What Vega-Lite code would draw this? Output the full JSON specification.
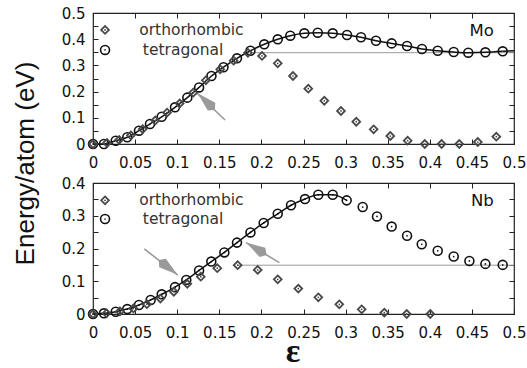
{
  "$schema": "https://vega.github.io/schema/vega-lite/v6.json",
  "padding": {"left": 11, "top": 5, "right": 5, "bottom": 5},
  "background": "white",
  "config": {
    "view": {"stroke": "#222", "strokeWidth": 1.2},
    "axis": {"grid": false, "domain": false, "tickColor": "#222", "tickSize": -5, "tickWidth": 1, "labelFont": "DejaVu Sans", "labelFontSize": 15, "labelColor": "#111", "labelPadding": 13, "titleColor": "#111", "labelFlush": false, "labelOverlap": false},
    "axisBottom": {"labelPadding": 16},
    "font": "DejaVu Sans"
  },
  "datasets": {
    "mo_tet": [
      {"eps": 0, "E": 0}, {"eps": 0.013, "E": 0.0}, {"eps": 0.027, "E": 0.0126}, {"eps": 0.0407, "E": 0.0256},
      {"eps": 0.0546, "E": 0.0508}, {"eps": 0.0677, "E": 0.0763}, {"eps": 0.0816, "E": 0.104}, {"eps": 0.0974, "E": 0.14},
      {"eps": 0.112, "E": 0.177}, {"eps": 0.126, "E": 0.216}, {"eps": 0.1407, "E": 0.2595}, {"eps": 0.155, "E": 0.293},
      {"eps": 0.171, "E": 0.327}, {"eps": 0.187, "E": 0.356}, {"eps": 0.2034, "E": 0.3805}, {"eps": 0.2194, "E": 0.3996},
      {"eps": 0.2343, "E": 0.4134}, {"eps": 0.251, "E": 0.4225}, {"eps": 0.2669, "E": 0.4248}, {"eps": 0.2847, "E": 0.4225},
      {"eps": 0.3017, "E": 0.416}, {"eps": 0.3183, "E": 0.4073}, {"eps": 0.3361, "E": 0.394}, {"eps": 0.3547, "E": 0.384},
      {"eps": 0.373, "E": 0.374}, {"eps": 0.3907, "E": 0.3626}, {"eps": 0.4094, "E": 0.356}, {"eps": 0.4284, "E": 0.351},
      {"eps": 0.4457, "E": 0.3485}, {"eps": 0.466, "E": 0.35}, {"eps": 0.4866, "E": 0.3538}
    ],
    "mo_line_end": [
      {"eps": 0.4866, "E": 0.3538}, {"eps": 0.5, "E": 0.356}
    ],
    "mo_orth": [
      {"eps": 0, "E": 0}, {"eps": 0.0166, "E": 0.004}, {"eps": 0.031, "E": 0.016}, {"eps": 0.045, "E": 0.033},
      {"eps": 0.059, "E": 0.057}, {"eps": 0.074, "E": 0.09}, {"eps": 0.088, "E": 0.12}, {"eps": 0.103, "E": 0.155},
      {"eps": 0.119, "E": 0.196}, {"eps": 0.134, "E": 0.243}, {"eps": 0.151, "E": 0.285}, {"eps": 0.167, "E": 0.318},
      {"eps": 0.184, "E": 0.348}, {"eps": 0.2007, "E": 0.336}, {"eps": 0.2194, "E": 0.308}, {"eps": 0.2375, "E": 0.2595},
      {"eps": 0.2557, "E": 0.211}, {"eps": 0.2747, "E": 0.165}, {"eps": 0.2945, "E": 0.126}, {"eps": 0.3127, "E": 0.085},
      {"eps": 0.3333, "E": 0.056}, {"eps": 0.3531, "E": 0.0305}, {"eps": 0.3737, "E": 0.0126}, {"eps": 0.394, "E": 0.0},
      {"eps": 0.414, "E": 0.0}, {"eps": 0.435, "E": 0.0}, {"eps": 0.457, "E": 0.0076}, {"eps": 0.479, "E": 0.028}
    ],
    "nb_tet": [
      {"eps": 0, "E": 0}, {"eps": 0.013, "E": 0.002}, {"eps": 0.027, "E": 0.007}, {"eps": 0.0407, "E": 0.015},
      {"eps": 0.0546, "E": 0.0275}, {"eps": 0.0685, "E": 0.043}, {"eps": 0.0816, "E": 0.06}, {"eps": 0.0974, "E": 0.082},
      {"eps": 0.1108, "E": 0.104}, {"eps": 0.126, "E": 0.133}, {"eps": 0.1405, "E": 0.16}, {"eps": 0.156, "E": 0.188},
      {"eps": 0.171, "E": 0.218}, {"eps": 0.187, "E": 0.249}, {"eps": 0.2027, "E": 0.278}, {"eps": 0.2194, "E": 0.306},
      {"eps": 0.2352, "E": 0.332}, {"eps": 0.2518, "E": 0.351}, {"eps": 0.2676, "E": 0.364}, {"eps": 0.2847, "E": 0.364},
      {"eps": 0.3013, "E": 0.347}, {"eps": 0.3203, "E": 0.3266}, {"eps": 0.3373, "E": 0.298}, {"eps": 0.3547, "E": 0.267},
      {"eps": 0.373, "E": 0.2388}, {"eps": 0.3904, "E": 0.213}, {"eps": 0.4094, "E": 0.193}, {"eps": 0.4284, "E": 0.1755},
      {"eps": 0.447, "E": 0.162}, {"eps": 0.466, "E": 0.153}, {"eps": 0.4866, "E": 0.15}
    ],
    "nb_orth": [
      {"eps": 0, "E": 0}, {"eps": 0.016, "E": 0.002}, {"eps": 0.032, "E": 0.008}, {"eps": 0.048, "E": 0.017},
      {"eps": 0.064, "E": 0.03}, {"eps": 0.08, "E": 0.047}, {"eps": 0.096, "E": 0.068}, {"eps": 0.112, "E": 0.092},
      {"eps": 0.128, "E": 0.114}, {"eps": 0.1476, "E": 0.14}, {"eps": 0.1718, "E": 0.149}, {"eps": 0.1956, "E": 0.1347},
      {"eps": 0.2194, "E": 0.106}, {"eps": 0.2438, "E": 0.0775}, {"eps": 0.2676, "E": 0.051}, {"eps": 0.2925, "E": 0.0297},
      {"eps": 0.3191, "E": 0.0143}, {"eps": 0.346, "E": 0.004}, {"eps": 0.3726, "E": 0.0}, {"eps": 0.4006, "E": 0.0}
    ]
  },
  "bounds": "flush",
  "spacing": 39,
  "vconcat": [
    {
      "width": 421,
      "height": 131,
      "resolve": {"axis": {"x": "independent", "y": "independent"}},
      "layer": [
        {
          "data": {"values": [{"x": 0.19, "x2": 0.5, "y": 0.3485}]},
          "mark": {"type": "rule", "color": "#9a9a9a", "strokeWidth": 1},
          "encoding": {
            "x": {"field": "x", "type": "quantitative", "scale": {"domain": [0, 0.5], "nice": false},
                  "axis": {"orient": "top", "values": [0, 0.05, 0.1, 0.15, 0.2, 0.25, 0.3, 0.35, 0.4, 0.45, 0.5], "labels": false, "title": null}},
            "x2": {"field": "x2"},
            "y": {"field": "y", "type": "quantitative", "scale": {"domain": [0, 0.5], "nice": false},
                  "axis": {"orient": "right", "values": [0, 0.05, 0.1, 0.15, 0.2, 0.25, 0.3, 0.35, 0.4, 0.45, 0.5], "labels": false, "title": null}}
          }
        },
        {
          "data": {"values": [{"x": 0.1568, "y": 0.0916, "x2": 0.1239, "y2": 0.1935}]},
          "mark": {"type": "rule", "color": "#9a9a9a", "strokeWidth": 1.6},
          "encoding": {
            "x": {"field": "x", "type": "quantitative", "axis": null}, "y": {"field": "y", "type": "quantitative", "axis": null},
            "x2": {"field": "x2"}, "y2": {"field": "y2"}
          }
        },
        {
          "data": {"values": [{"x": 0.1346, "y": 0.1615}]},
          "mark": {"type": "point", "shape": "M 1 0 L -0.6 -0.45 L -1 0 L -0.6 0.45 Z", "size": 576, "angle": 224.4, "filled": true, "color": "#9a9a9a", "opacity": 1},
          "encoding": {"x": {"field": "x", "type": "quantitative", "axis": null}, "y": {"field": "y", "type": "quantitative", "axis": null}}
        },
        {
          "data": {"name": "mo_tet"},
          "mark": {"type": "line", "color": "#111", "strokeWidth": 1.5, "interpolate": "monotone"},
          "encoding": {"x": {"field": "eps", "type": "quantitative", "axis": null}, "y": {"field": "E", "type": "quantitative", "axis": null}}
        },
        {
          "data": {"name": "mo_line_end"},
          "mark": {"type": "line", "color": "#111", "strokeWidth": 1.5},
          "encoding": {"x": {"field": "eps", "type": "quantitative", "axis": null}, "y": {"field": "E", "type": "quantitative", "axis": null}}
        },
        {
          "data": {"name": "mo_tet"},
          "mark": {"type": "point", "shape": "circle", "filled": false, "stroke": "#111", "strokeWidth": 1.6, "size": 80, "opacity": 1},
          "encoding": {
            "x": {"field": "eps", "type": "quantitative",
                  "axis": {"orient": "bottom", "values": [0, 0.05, 0.1, 0.15, 0.2, 0.25, 0.3, 0.35, 0.4, 0.45, 0.5], "format": "~g", "title": null}},
            "y": {"field": "E", "type": "quantitative",
                  "axis": {"orient": "left", "values": [0, 0.05, 0.1, 0.15, 0.2, 0.25, 0.3, 0.35, 0.4, 0.45, 0.5],
                           "labelExpr": "round(datum.value*100) % 10 == 0 ? format(datum.value, '~g') : ''",
                           "title": "Energy/atom (eV)", "titleFont": "Liberation Sans", "titleFontSize": 26, "titleFontWeight": "normal",
                           "titleX": -60, "titleY": 150, "titleAngle": 270, "titleBaseline": "alphabetic", "titleAlign": "center"}}
          }
        },
        {
          "data": {"name": "mo_orth"},
          "mark": {"type": "point", "shape": "diamond", "filled": false, "stroke": "#484848", "strokeWidth": 1.8, "size": 60, "opacity": 1},
          "encoding": {"x": {"field": "eps", "type": "quantitative", "axis": null}, "y": {"field": "E", "type": "quantitative", "axis": null}}
        },
        {
          "data": {"name": "mo_orth"},
          "mark": {"type": "point", "shape": "circle", "filled": true, "color": "#484848", "size": 3, "opacity": 1},
          "encoding": {"x": {"field": "eps", "type": "quantitative", "axis": null}, "y": {"field": "E", "type": "quantitative", "axis": null}}
        },
        {
          "data": {"values": [{"x": 0.0143, "y": 0.4355}]},
          "mark": {"type": "point", "shape": "diamond", "filled": false, "stroke": "#484848", "strokeWidth": 1.8, "size": 60, "opacity": 1},
          "encoding": {"x": {"field": "x", "type": "quantitative", "axis": null}, "y": {"field": "y", "type": "quantitative", "axis": null}}
        },
        {
          "data": {"values": [{"x": 0.0143, "y": 0.359}]},
          "mark": {"type": "point", "shape": "circle", "filled": false, "stroke": "#111", "strokeWidth": 1.6, "size": 80, "opacity": 1},
          "encoding": {"x": {"field": "x", "type": "quantitative", "axis": null}, "y": {"field": "y", "type": "quantitative", "axis": null}}
        },
        {
          "data": {"values": [{"x": 0.0143, "y": 0.4355}, {"x": 0.0143, "y": 0.359}]},
          "mark": {"type": "point", "shape": "circle", "filled": true, "color": "#333", "size": 3, "opacity": 1},
          "encoding": {"x": {"field": "x", "type": "quantitative", "axis": null}, "y": {"field": "y", "type": "quantitative", "axis": null}}
        },
        {
          "data": {"values": [{"x": 0.0549, "y": 0.4355, "label": "orthorhombic"}, {"x": 0.0592, "y": 0.359, "label": "tetragonal"}]},
          "mark": {"type": "text", "align": "left", "baseline": "middle", "font": "DejaVu Sans", "fontSize": 15.5, "color": "#333"},
          "encoding": {"x": {"field": "x", "type": "quantitative", "axis": null}, "y": {"field": "y", "type": "quantitative", "axis": null}, "text": {"field": "label"}}
        },
        {
          "data": {"values": [{"x": 0.476, "y": 0.43, "label": "Mo"}]},
          "mark": {"type": "text", "align": "right", "baseline": "middle", "font": "DejaVu Sans", "fontSize": 16.5, "color": "#111"},
          "encoding": {"x": {"field": "x", "type": "quantitative", "axis": null}, "y": {"field": "y", "type": "quantitative", "axis": null}, "text": {"field": "label"}}
        }
      ]
    },
    {
      "width": 421,
      "height": 131,
      "resolve": {"axis": {"x": "independent", "y": "independent"}},
      "layer": [
        {
          "data": {"values": [{"x": 0.172, "x2": 0.5, "y": 0.149}]},
          "mark": {"type": "rule", "color": "#9a9a9a", "strokeWidth": 1},
          "encoding": {
            "x": {"field": "x", "type": "quantitative", "scale": {"domain": [0, 0.5], "nice": false},
                  "axis": {"orient": "top", "values": [0, 0.05, 0.1, 0.15, 0.2, 0.25, 0.3, 0.35, 0.4, 0.45, 0.5], "labels": false, "title": null}},
            "x2": {"field": "x2"},
            "y": {"field": "y", "type": "quantitative", "scale": {"domain": [0, 0.4], "nice": false},
                  "axis": {"orient": "right", "values": [0, 0.05, 0.1, 0.15, 0.2, 0.25, 0.3, 0.35, 0.4], "labels": false, "title": null}}
          }
        },
        {
          "data": {"values": [{"x": 0.0609, "y": 0.199, "x2": 0.1006, "y2": 0.119}, {"x": 0.2213, "y": 0.157, "x2": 0.1817, "y2": 0.218}]},
          "mark": {"type": "rule", "color": "#9a9a9a", "strokeWidth": 1.6},
          "encoding": {
            "x": {"field": "x", "type": "quantitative", "axis": null}, "y": {"field": "y", "type": "quantitative", "axis": null},
            "x2": {"field": "x2"}, "y2": {"field": "y2"}
          }
        },
        {
          "data": {"values": [{"x": 0.0893, "y": 0.142}]},
          "mark": {"type": "point", "shape": "M 1 0 L -0.6 -0.45 L -1 0 L -0.6 0.45 Z", "size": 576, "angle": 37.9, "filled": true, "color": "#9a9a9a", "opacity": 1},
          "encoding": {"x": {"field": "x", "type": "quantitative", "axis": null}, "y": {"field": "y", "type": "quantitative", "axis": null}}
        },
        {
          "data": {"values": [{"x": 0.194, "y": 0.1993}]},
          "mark": {"type": "point", "shape": "M 1 0 L -0.6 -0.45 L -1 0 L -0.6 0.45 Z", "size": 576, "angle": 211, "filled": true, "color": "#9a9a9a", "opacity": 1},
          "encoding": {"x": {"field": "x", "type": "quantitative", "axis": null}, "y": {"field": "y", "type": "quantitative", "axis": null}}
        },
        {
          "data": {"name": "nb_tet"},
          "transform": [{"filter": "datum.eps <= 0.302"}],
          "mark": {"type": "line", "color": "#111", "strokeWidth": 1.5, "interpolate": "monotone"},
          "encoding": {"x": {"field": "eps", "type": "quantitative", "axis": null}, "y": {"field": "E", "type": "quantitative", "axis": null}}
        },
        {
          "data": {"name": "nb_tet"},
          "mark": {"type": "point", "shape": "circle", "filled": false, "stroke": "#111", "strokeWidth": 1.6, "size": 80, "opacity": 1},
          "encoding": {
            "x": {"field": "eps", "type": "quantitative",
                  "axis": {"orient": "bottom", "values": [0, 0.05, 0.1, 0.15, 0.2, 0.25, 0.3, 0.35, 0.4, 0.45, 0.5], "format": "~g",
                           "title": "ε", "titleFont": "Liberation Serif", "titleFontSize": 34, "titleFontWeight": "bold",
                           "titleX": 199.5, "titleY": 47, "titleBaseline": "alphabetic", "titleAlign": "center"}},
            "y": {"field": "E", "type": "quantitative",
                  "axis": {"orient": "left", "values": [0, 0.05, 0.1, 0.15, 0.2, 0.25, 0.3, 0.35, 0.4],
                           "labelExpr": "round(datum.value*100) % 10 == 0 ? format(datum.value, '~g') : ''", "title": null}}
          }
        },
        {
          "data": {"name": "nb_tet"},
          "mark": {"type": "point", "shape": "circle", "filled": true, "color": "#111", "size": 3, "opacity": 1},
          "encoding": {"x": {"field": "eps", "type": "quantitative", "axis": null}, "y": {"field": "E", "type": "quantitative", "axis": null}}
        },
        {
          "data": {"name": "nb_orth"},
          "mark": {"type": "point", "shape": "diamond", "filled": false, "stroke": "#484848", "strokeWidth": 1.8, "size": 60, "opacity": 1},
          "encoding": {"x": {"field": "eps", "type": "quantitative", "axis": null}, "y": {"field": "E", "type": "quantitative", "axis": null}}
        },
        {
          "data": {"name": "nb_orth"},
          "mark": {"type": "point", "shape": "circle", "filled": true, "color": "#484848", "size": 3, "opacity": 1},
          "encoding": {"x": {"field": "eps", "type": "quantitative", "axis": null}, "y": {"field": "E", "type": "quantitative", "axis": null}}
        },
        {
          "data": {"values": [{"x": 0.0143, "y": 0.347}]},
          "mark": {"type": "point", "shape": "diamond", "filled": false, "stroke": "#484848", "strokeWidth": 1.8, "size": 60, "opacity": 1},
          "encoding": {"x": {"field": "x", "type": "quantitative", "axis": null}, "y": {"field": "y", "type": "quantitative", "axis": null}}
        },
        {
          "data": {"values": [{"x": 0.0143, "y": 0.29}]},
          "mark": {"type": "point", "shape": "circle", "filled": false, "stroke": "#111", "strokeWidth": 1.6, "size": 80, "opacity": 1},
          "encoding": {"x": {"field": "x", "type": "quantitative", "axis": null}, "y": {"field": "y", "type": "quantitative", "axis": null}}
        },
        {
          "data": {"values": [{"x": 0.0143, "y": 0.347}, {"x": 0.0143, "y": 0.29}]},
          "mark": {"type": "point", "shape": "circle", "filled": true, "color": "#333", "size": 3, "opacity": 1},
          "encoding": {"x": {"field": "x", "type": "quantitative", "axis": null}, "y": {"field": "y", "type": "quantitative", "axis": null}}
        },
        {
          "data": {"values": [{"x": 0.0549, "y": 0.347, "label": "orthorhombic"}, {"x": 0.0592, "y": 0.29, "label": "tetragonal"}]},
          "mark": {"type": "text", "align": "left", "baseline": "middle", "font": "DejaVu Sans", "fontSize": 15.5, "color": "#333"},
          "encoding": {"x": {"field": "x", "type": "quantitative", "axis": null}, "y": {"field": "y", "type": "quantitative", "axis": null}, "text": {"field": "label"}}
        },
        {
          "data": {"values": [{"x": 0.476, "y": 0.346, "label": "Nb"}]},
          "mark": {"type": "text", "align": "right", "baseline": "middle", "font": "DejaVu Sans", "fontSize": 16.5, "color": "#111"},
          "encoding": {"x": {"field": "x", "type": "quantitative", "axis": null}, "y": {"field": "y", "type": "quantitative", "axis": null}, "text": {"field": "label"}}
        }
      ]
    }
  ]
}
